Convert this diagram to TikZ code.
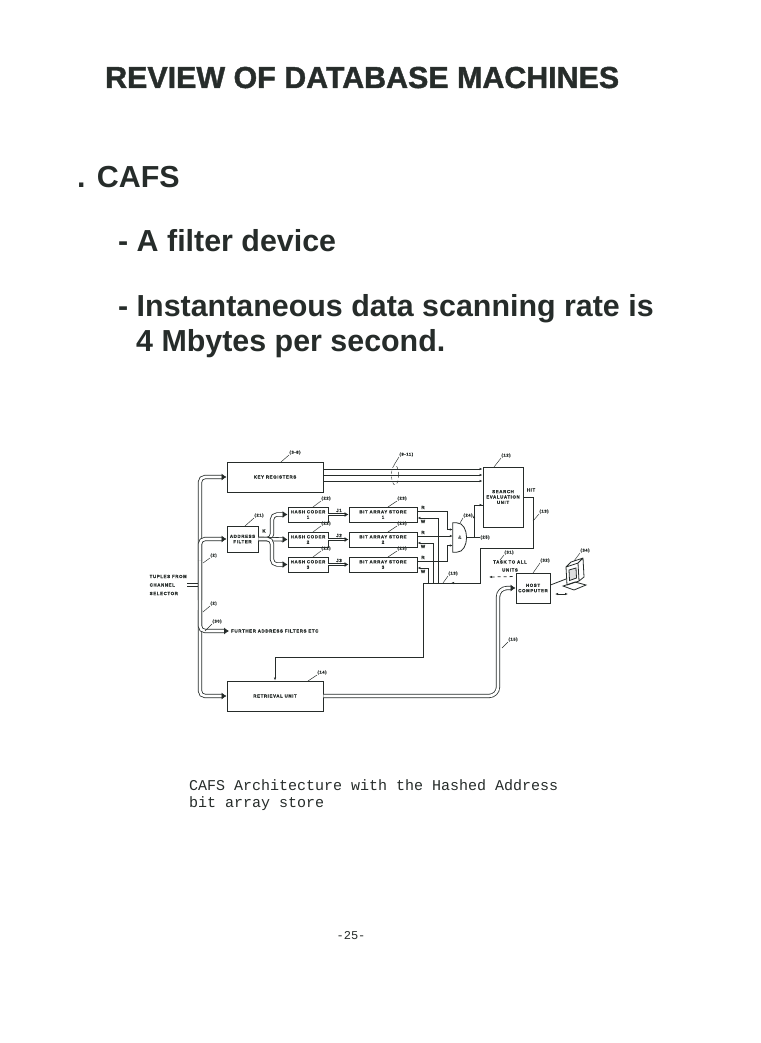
\documentclass[tikz,border=0pt]{standalone}
\usepackage{fontspec}
\setmainfont{Liberation Sans}
\setmonofont{Liberation Mono}
\newfontfamily\diafont[LetterSpace=14,FakeBold=0.8]{Liberation Sans}
\newfontfamily\titlefont[FakeBold=1.5]{Liberation Sans Bold}
\usetikzlibrary{arrows.meta,calc,shapes.geometric}
\definecolor{ink}{RGB}{38,44,42}

\begin{document}
\begin{tikzpicture}[x=1pt,y=-1pt,>={Latex[length=3pt,width=2.4pt]},
  box/.style={draw=ink,line width=0.9pt,inner sep=0pt,align=center,text=ink,
    font=\diafont\bfseries\fontsize{4.4}{5.4}\selectfont},
  lbl/.style={inner sep=0.5pt,align=center,text=ink,font=\diafont\bfseries\fontsize{4.4}{8}\selectfont},
  tag/.style={inner sep=0.3pt,text=ink,font=\diafont\bfseries\fontsize{4.1}{4.5}\selectfont},
  pipe/.style={draw=ink,double=white,double distance=2.6pt,line width=0.8pt,rounded corners=5pt},
  pipeend/.style={-{Latex[length=5pt,width=7pt]}},
  wire/.style={draw=ink,line width=0.8pt},
  lead/.style={draw=ink,line width=0.45pt},
  head/.style={anchor=base west,inner sep=0pt,text=ink,font=\bfseries\fontsize{30.4}{36}\selectfont}]

\fill[white] (0,0) rectangle (760,1043);
\useasboundingbox (0,0) rectangle (760,1043);

% slide text
\node[head,font=\titlefont\fontsize{30.4}{36}\selectfont] (title) at (105,88)
  {\special{pdf:literal direct q 2 Tr 1.0 w 0.2 0.22 0.21 RG}REVIEW OF DATABASE MACHINES\special{pdf:literal direct Q}};
\node[head] (cafs) at (77,187) {. CAFS};
\node[head] (filt) at (118,251) {- A filter device};
\node[head] (scan) at (118,316) {- Instantaneous data scanning rate is};
\node[head] (rate) at (136,351) {4 Mbytes per second.};

% units
\node[box,minimum width=96pt,minimum height=30pt] (keyreg) at (275,477) {KEY REGISTERS};
\node[box,minimum width=40pt,minimum height=60pt] (seu) at (503,497) {SEARCH\\EVALUATION\\UNIT};
\node[box,minimum width=31pt,minimum height=26pt] (addr) at (242.5,539) {ADDRESS\\FILTER};
\foreach \i/\y in {1/514.5,2/539.5,3/564.5} {
  \node[box,minimum width=40pt,minimum height=15pt] (hash\i) at (308,\y) {HASH CODER\\\i};
  \node[box,minimum width=68pt,minimum height=15pt] (bas\i) at (383,\y) {BIT ARRAY STORE\\\i};
}
\node[minimum width=14pt,minimum height=29pt,inner sep=0pt,text=ink,
  font=\bfseries\fontsize{5}{6}\selectfont] (gate) at (460,537.5) {\&};
\draw[wire] (gate.north west) -- ++(4,0) .. controls +(13,0) and +(13,0) .. ($(gate.south west)+(4,0)$) -- (gate.south west) -- cycle;
\node[box,minimum width=34pt,minimum height=30pt] (host) at (533,588) {HOST\\COMPUTER};
\node[box,minimum width=96pt,minimum height=30pt] (retr) at (275,696) {RETRIEVAL UNIT};

% texts
\node[lbl,align=left,anchor=west,font=\diafont\bfseries\fontsize{4.4}{8.5}\selectfont] (tuples) at (149,585) {TUPLES FROM\\CHANNEL\\SELECTOR};
\node[lbl,anchor=west,inner sep=2pt] (further) at (229,631) {FURTHER ADDRESS FILTERS ETC};
\node[lbl] (task) at (510,566) {TASK TO ALL\\UNITS};
\node[lbl] (hit) at (531,490) {HIT};
\node[lbl] (k) at (264,531) {K};
\foreach \i/\y in {1/510.5,2/535.5,3/560.5}
  \node[lbl] (j\i) at (339,\y) {J\i};
\foreach \i/\y in {1/507.5,2/532.5,3/557.5} {
  \node[lbl] (r\i) at (423,\y) {R};
  \node[lbl] (w\i) at (423,\y+14) {W};
}

% buses
\draw[pipe] (tuples.east) -- (198.6,585);
\draw[pipe,pipeend] (200,600) |- (keyreg.west);
\draw[pipe,pipeend] (200,560) |- (retr.west);
\draw[pipe,pipeend] (200,560) |- (addr.west);
\draw[pipe,pipeend] (200,610) |- (further.west);
\draw[pipe,pipeend] (addr.east) -- (272,539) |- (hash1.west);
\draw[pipe,pipeend] (addr.east) -- (hash2.west);
\draw[pipe,pipeend] (addr.east) -- (272,539) |- (hash3.west);
\foreach \i in {1,2,3}
  \draw[draw=ink,double=white,double distance=0.8pt,line width=0.8pt,-{Latex[length=4pt,width=5pt]}] (hash\i.east) -- (bas\i.west);
\draw[pipe,pipeend,rounded corners=9pt] (retr.east) -| (498,640) |- (host.west);

% key lines
\foreach \dy in {-8,-2,4}
  \draw[wire,->] ($(keyreg.east)+(0,\dy)$) -- ($(seu.west |- keyreg.east)+(0,\dy)$);
\node[draw=ink,dashed,line width=0.45pt,ellipse,minimum width=7pt,minimum height=20pt,inner sep=0pt] (grp) at (395,475) {};

% read and write lines
\draw[wire,->] ($(bas1.east)+(0,-3.5)$) -| (447,529.5) -- ($(gate.west)+(0,-8)$);
\draw[wire,->] ($(bas2.east)+(0,-3.5)$) -- ($(gate.west)+(0,-1.5)$);
\draw[wire,->] ($(bas3.east)+(0,-3.5)$) -| (447,545.5) -- ($(gate.west)+(0,8)$);
\coordinate (bus) at (423,583);
\draw[wire,<-] ($(bas1.east)+(0,3.5)$) -| (438,583);
\draw[wire,<-] ($(bas2.east)+(0,3.5)$) -| (433,583);
\draw[wire,<-] ($(bas3.east)+(0,3.5)$) -| (428,583);
\draw[wire] (gate.east) -| (474,505) -- ($(seu.west)+(0,8)$);
\draw[wire,->] (474,530) -- (474,515);
\draw[wire,->] (474,505) -- ($(seu.west)+(0,8)$);
\draw[wire] (seu.east) -- (533,497) -- (533,548) -- (480,548) -- (480,583) -- (bus);
\draw[wire,->] (470,583) -- (451,583);
\draw[wire,->] (bus) -- (423,657) -| (retr.north);

% host side
\coordinate (taskend) at (489,577);
\draw[wire,dashed,->] ($(host.north west)+(-3,4)$) -- (taskend);
\coordinate (term) at (566,579);
\draw[wire] ($(host.east)+(0,-3)$) -- (term);
\draw[wire,line join=round] (566,567) -- (578,563) -- (579,581) -- (567,585) -- cycle
  (566,567) -- (571,562) -- (583,558) -- (578,563) (583,558) -- (584,577) -- (579,581);
\draw[wire,fill=ink!15] (569,570) -- (576,568) -- (576.5,578) -- (569.5,580.5) -- cycle;
\draw[wire] (563,586) -- (575,582) -- (586,585) -- (574,590) -- cycle;
\coordinate (kb1) at (555,594);
\coordinate (kb2) at (568,594);
\draw[wire,<->] (kb1) -- (kb2);

% numbers
\foreach \ax/\ay/\bx/\by/\t [count=\n] in {281/462/289/455/{(3-8)},394/465/399/457/{(9-11)},
    494/467/501/458/{(12)},313/507/321/501/{(22)},313/532/321/526/{(22)},313/557/321/551/{(22)},
    388/507/397/501/{(23)},388/532/397/526/{(23)},388/557/397/551/{(23)},245/526/254/518/{(21)},
    460/523/463/518/{(24)},533/521/539/514/{(13)},443/583/448/576/{(13)},500/560/504/555/{(31)},
    533/573/540/563/{(32)},574/561/580/553/{(34)},203/563/210/558/{(2)},203/612/210/606/{(2)},
    205/631/212/624/{(30)},308/681/317/675/{(14)},502/648/508/642/{(15)}}
  \draw[lead] (\ax,\ay) -- (\bx,\by) node[tag,anchor=south west] (tag\n) {\t};
\draw[lead] (475,537.5) -- (480,537.5) node[tag,anchor=west] (tag25) {(25)};

% caption
\node[anchor=base west,inner sep=0pt,text=ink,font=\ttfamily\fontsize{15}{17}\selectfont] (cap1) at (189,790) {CAFS Architecture with the Hashed Address};
\node[anchor=base west,inner sep=0pt,text=ink,font=\ttfamily\fontsize{15}{17}\selectfont] (cap2) at (189,807) {bit array store};
\node[anchor=base,inner sep=0pt,text=ink,font=\ttfamily\fontsize{12}{14}\selectfont] (pageno) at (351,939) {-25-};
\end{tikzpicture}
\end{document}
